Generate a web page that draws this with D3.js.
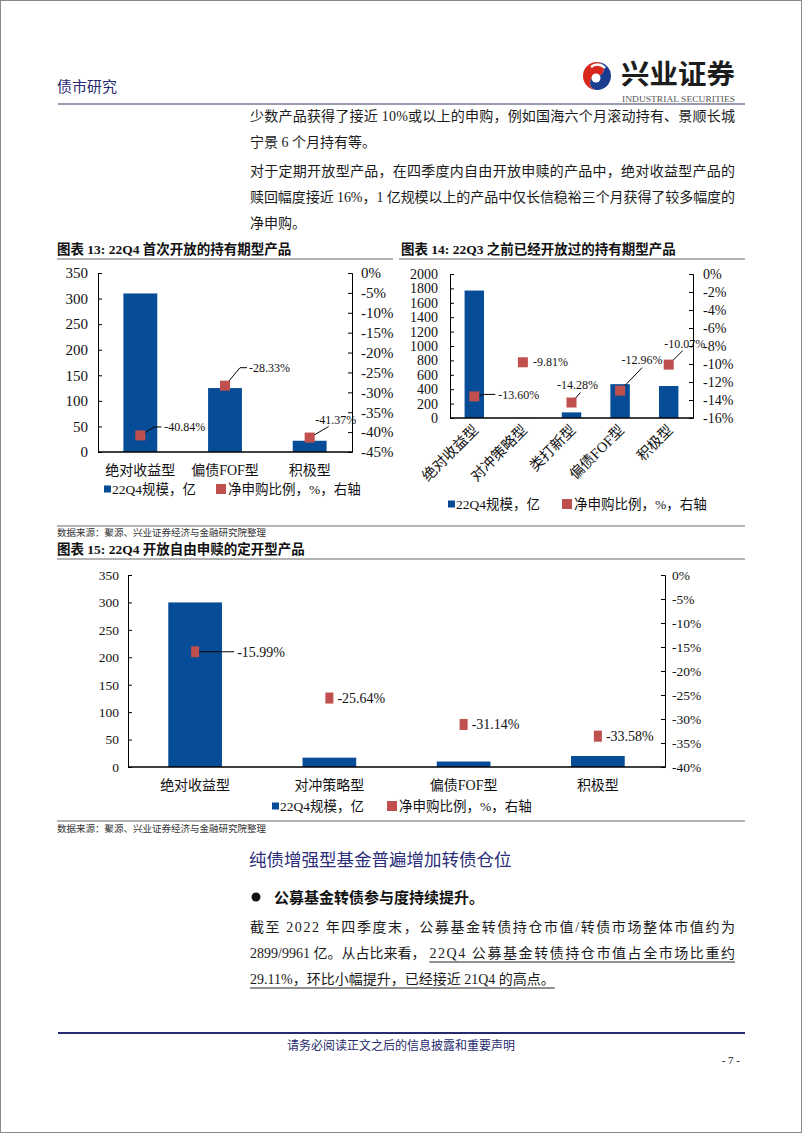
<!DOCTYPE html>
<html><head><meta charset="utf-8">
<script src="https://cdn.jsdelivr.net/npm/d3@7/dist/d3.min.js"></script>
<style>
html,body{margin:0;padding:0;background:#fff;}
svg{display:block;}
</style></head>
<body>
<svg id="page" width="802" height="1133"></svg>
<script>
// ---------- data ----------
const c13Categories = ["绝对收益型", "偏债FOF型", "积极型"];
const c13Scale = [310, 125, 22];          // 22Q4规模，亿
const c13Ratio = [-40.84, -28.33, -41.37]; // 净申购比例，%
const c13LeftTicks = [0, 50, 100, 150, 200, 250, 300, 350];
const c13RightTicks = [0, -5, -10, -15, -20, -25, -30, -35, -40, -45];

const c14Categories = ["绝对收益型", "对冲策略型", "类打新型", "偏债FOF型", "积极型"];
const c14Scale = [1770, 2, 78, 470, 444];
const c14Ratio = [-13.60, -9.81, -14.28, -12.96, -10.07];
const c14LeftTicks = [0, 200, 400, 600, 800, 1000, 1200, 1400, 1600, 1800, 2000];
const c14RightTicks = [0, -2, -4, -6, -8, -10, -12, -14, -16];

const c15Categories = ["绝对收益型", "对冲策略型", "偏债FOF型", "积极型"];
const c15Scale = [300, 17, 10, 20];
const c15Ratio = [-15.99, -25.64, -31.14, -33.58];
const c15LeftTicks = [0, 50, 100, 150, 200, 250, 300, 350];
const c15RightTicks = [0, -5, -10, -15, -20, -25, -30, -35, -40];

const legendLabels = ["22Q4规模，亿", "净申购比例，%，右轴"];

// label placement (offsets from the marker, and leader line bends)
const c13LabelPos = [{dx:24, dy:-8.5, anchor:"start", leader:[[14,-8.5],[21,-8.5]]},
                     {dx:24, dy:-18, anchor:"start", leader:[[15,-18],[22,-18]]},
                     {dx:26, dy:-17.5, anchor:"middle", leader:[[19,-11]]}];
const c14LabelPos = [{dx:24, dy:-2, anchor:"start", leader:[[10,-2],[21,-2]]},
                     {dx:10, dy:0, anchor:"start", leader:null},
                     {dx:6, dy:-17.5, anchor:"middle", leader:[[9,-10]]},
                     {dx:22, dy:-30.5, anchor:"middle", leader:[[22,-23]]},
                     {dx:16, dy:-20.5, anchor:"middle", leader:[[14,-14]]}];
const c15LabelPos = [{dx:42, dy:0, anchor:"start", leader:[[39,0]]},
                     {dx:8, dy:0, anchor:"start", leader:null},
                     {dx:8, dy:0, anchor:"start", leader:null},
                     {dx:8, dy:0, anchor:"start", leader:null}];

// ---------- styles ----------
const BLUE = "#074C97";
const RED = "#C0504D";
const NAVY = "#262A6E";
const SERIF = "'Liberation Serif','Noto Sans CJK SC',serif";
const CJK = "'Liberation Serif','Noto Sans CJK SC',sans-serif";

const svg = d3.select("#page");

// page border
svg.append("rect").attr("x",0.5).attr("y",0.5).attr("width",801).attr("height",1132)
  .attr("fill","#fff").attr("stroke","#8a8a8a");

// ---------- header ----------
svg.append("text").attr("x",57).attr("y",92).text("债市研究")
  .attr("font-family",CJK).attr("font-size",15).attr("fill",NAVY);

// logo swirl
const lg = svg.append("g").attr("transform","translate(597,76)");
lg.append("path").attr("d","M0,-14 A14,14 0 0,0 0,14 A7,7 0 0,1 0,0 A7,7 0 0,0 0,-14 Z").attr("fill","#D7281E");
lg.append("path").attr("d","M0,-14 A14,14 0 0,1 0,14 A7,7 0 0,1 0,0 A7,7 0 0,0 0,-14 Z").attr("fill","#1B3D8F");
lg.append("circle").attr("cx",-1).attr("cy",2).attr("r",4.5).attr("fill","#fff");
lg.append("path").attr("d","M-6,-9 A10,10 0 0,1 8,-8").attr("fill","none").attr("stroke","#fff").attr("stroke-width",2.5);
svg.append("text").attr("x",621).attr("y",84).text("兴业证券")
  .attr("font-family","'Noto Sans CJK SC',sans-serif").attr("font-weight","bold")
  .attr("font-size",27).attr("fill","#1d1d1d").attr("textLength",114).attr("lengthAdjust","spacingAndGlyphs");
svg.append("text").attr("x",622).attr("y",102).text("INDUSTRIAL SECURITIES")
  .attr("font-family",SERIF).attr("font-size",8.5).attr("fill","#555").attr("textLength",113).attr("lengthAdjust","spacingAndGlyphs");
svg.append("line").attr("x1",58).attr("x2",745).attr("y1",104).attr("y2",104)
  .attr("stroke","#7a7a96").attr("stroke-width",1.6);

// ---------- body text ----------
function bodyLine(y, txt, justify, x, size) {
  const t = svg.append("text").attr("x", x || 250).attr("y", y).text(txt)
    .attr("font-family",CJK).attr("font-size", size || 14).attr("fill","#1a1a1a");
  if (justify) t.attr("textLength", 485).attr("lengthAdjust","spacing");
  return t;
}
bodyLine(121, "少数产品获得了接近 10%或以上的申购，例如国海六个月滚动持有、景顺长城", true);
bodyLine(147, "宁景 6 个月持有等。", false);
bodyLine(176, "对于定期开放型产品，在四季度内自由开放申赎的产品中，绝对收益型产品的", true);
bodyLine(202, "赎回幅度接近 16%，1 亿规模以上的产品中仅长信稳裕三个月获得了较多幅度的", true);
bodyLine(228, "净申购。", false);

// ---------- chart titles & rules ----------
function title(x, y, txt) {
  svg.append("text").attr("x",x).attr("y",y).text(txt)
    .attr("font-family",CJK).attr("font-weight","bold").attr("font-size",13.5).attr("fill","#111");
}
function rule(x1, x2, y, w, c) {
  svg.append("line").attr("x1",x1).attr("x2",x2).attr("y1",y).attr("y2",y)
    .attr("stroke", c || "#6a6a6a").attr("stroke-width", w || 1.2);
}
function source(y) {
  svg.append("text").attr("x",57).attr("y",y).text("数据来源：聚源、兴业证券经济与金融研究院整理")
    .attr("font-family",CJK).attr("font-size",9.5).attr("fill","#333");
}
title(57, 254, "图表 13:  22Q4 首次开放的持有期型产品");
rule(57, 393, 259);
title(401, 254, "图表 14:  22Q3 之前已经开放过的持有期型产品");
rule(399, 745, 259);
rule(57, 745, 526);
source(536);
title(57, 554, "图表 15:  22Q4 开放自由申赎的定开型产品");
rule(57, 745, 559);
rule(57, 745, 821);
source(832);

// ---------- combo chart ----------
function combo(o) {
  const g = svg.append("g");
  const x = d3.scaleBand().domain(o.cats).range([o.x0, o.x1]).paddingInner(0.6).paddingOuter(0.3);
  const yl = d3.scaleLinear().domain([0, d3.max(o.leftTicks)]).range([o.yb, o.yt]);
  const yr = d3.scaleLinear().domain([d3.min(o.rightTicks), 0]).range([o.yb, o.yt]);

  // bars
  g.selectAll("rect.bar").data(o.cats).enter().append("rect").attr("class","bar")
    .attr("x", d => x(d)).attr("width", x.bandwidth())
    .attr("y", (d,i) => yl(o.bars[i])).attr("height", (d,i) => o.yb - yl(o.bars[i]))
    .attr("fill", BLUE);

  // axes
  const la = d3.axisLeft(yl).tickValues(o.leftTicks).tickSizeInner(-4).tickSizeOuter(-4)
    .tickPadding(o.lpad).tickFormat(d3.format("d"));
  const ra = d3.axisRight(yr).tickValues(o.rightTicks).tickSizeInner(-4).tickSizeOuter(-4)
    .tickPadding(o.rpad).tickFormat(d => d + "%");
  const lag = g.append("g").attr("transform", `translate(${o.x0},0)`).call(la);
  const rag = g.append("g").attr("transform", `translate(${o.x1},0)`).call(ra);
  [lag, rag].forEach(a => {
    a.select(".domain").attr("stroke","#000").attr("stroke-width",1);
    a.selectAll(".tick line").attr("stroke","#000");
    a.selectAll(".tick text").attr("font-family",SERIF).attr("font-size",o.tickSize).attr("fill","#111");
  });
  // baseline
  g.append("line").attr("x1",o.x0).attr("x2",o.x1).attr("y1",o.yb).attr("y2",o.yb)
    .attr("stroke","#000").attr("stroke-width",1.3);

  // markers
  const ms = o.marker;
  o.cats.forEach((c,i) => {
    const cx = x(c) + x.bandwidth()/2, cy = yr(o.ratios[i]);
    const lp = o.labels[i];
    if (lp.leader) {
      const pts = [[cx, cy]].concat(lp.leader.map(p => [cx + p[0], cy + p[1]]));
      g.append("path").attr("d", d3.line()(pts)).attr("fill","none").attr("stroke","#000").attr("stroke-width",1);
    }
    g.append("rect").attr("x", cx - ms[0]/2).attr("y", cy - ms[1]/2)
      .attr("width", ms[0]).attr("height", ms[1]).attr("fill", RED);
    g.append("text").attr("x", cx + lp.dx).attr("y", cy + lp.dy).attr("dy","0.35em")
      .attr("text-anchor", lp.anchor).text(o.ratios[i].toFixed(2) + "%")
      .attr("font-family",SERIF).attr("font-size",o.labelSize).attr("fill","#111");
  });

  // category labels
  o.cats.forEach(c => {
    const cx = x(c) + x.bandwidth()/2;
    const t = g.append("text").text(c).attr("font-family",CJK).attr("font-size",o.catSize).attr("fill","#111");
    if (o.rotate) {
      t.attr("text-anchor","end").attr("transform", `translate(${cx + 5},${o.yb + 13}) rotate(-45)`);
    } else {
      t.attr("text-anchor","middle").attr("x", cx).attr("y", o.catY);
    }
  });

  // legend
  const L = o.legend;
  g.append("rect").attr("x",L.x1).attr("y",L.y - L.s1/2).attr("width",L.s1).attr("height",L.s1).attr("fill",BLUE);
  g.append("text").attr("x",L.x1 + L.s1 + 1).attr("y",L.y).attr("dy","0.35em").text(legendLabels[0])
    .attr("font-family",CJK).attr("font-size",L.fs).attr("fill","#111");
  g.append("rect").attr("x",L.x2).attr("y",L.y - L.s2/2).attr("width",L.s2).attr("height",L.s2).attr("fill",RED);
  g.append("text").attr("x",L.x2 + L.s2 + 2).attr("y",L.y).attr("dy","0.35em").text(legendLabels[1])
    .attr("font-family",CJK).attr("font-size",L.fs).attr("fill","#111");
}

combo({cats:c13Categories, bars:c13Scale, ratios:c13Ratio, leftTicks:c13LeftTicks, rightTicks:c13RightTicks,
  x0:98, x1:352, yt:273, yb:452, lpad:10, rpad:9, tickSize:15, labelSize:12, catSize:14, catY:475,
  marker:[10,10], labels:c13LabelPos, rotate:false,
  legend:{x1:104, x2:216, y:489, s1:7, s2:10, fs:13.5}});

combo({cats:c14Categories, bars:c14Scale, ratios:c14Ratio, leftTicks:c14LeftTicks, rightTicks:c14RightTicks,
  x0:450, x1:693, yt:274, yb:418, lpad:12, rpad:10, tickSize:14, labelSize:12, catSize:14.5,
  marker:[10,10], labels:c14LabelPos, rotate:true,
  legend:{x1:448, x2:562, y:504, s1:7, s2:10, fs:13.5}});

combo({cats:c15Categories, bars:c15Scale, ratios:c15Ratio, leftTicks:c15LeftTicks, rightTicks:c15RightTicks,
  x0:128, x1:665, yt:575, yb:767, lpad:9, rpad:7, tickSize:13.5, labelSize:14, catSize:14, catY:790,
  marker:[8,11], labels:c15LabelPos, rotate:false,
  legend:{x1:272, x2:387, y:806, s1:7, s2:10, fs:13.5}});

// ---------- section ----------
svg.append("text").attr("x",249).attr("y",866).text("纯债增强型基金普遍增加转债仓位")
  .attr("font-family",CJK).attr("font-size",17.5).attr("fill","#2B2D7A");
svg.append("circle").attr("cx",256).attr("cy",897).attr("r",4.5).attr("fill","#111");
svg.append("text").attr("x",274).attr("y",903).text("公募基金转债参与度持续提升。")
  .attr("font-family",CJK).attr("font-weight","bold").attr("font-size",15).attr("fill","#111");

bodyLine(932, "截至 2022 年四季度末，公募基金转债持仓市值/转债市场整体市值约为", true);
const p1 = bodyLine(958, "2899/9961 亿。从占比来看，", false);
const w1 = p1.node().getComputedTextLength();
const p2 = bodyLine(958, "22Q4 公募基金转债持仓市值占全市场比重约", false, 250 + w1 + 4);
p2.attr("textLength", 735 - (250 + w1 + 4)).attr("lengthAdjust","spacing");
svg.append("line").attr("x1",250 + w1 + 4).attr("x2",735).attr("y1",962).attr("y2",962).attr("stroke","#222").attr("stroke-width",1);
const p3 = bodyLine(984, "29.11%，环比小幅提升，已经接近 21Q4 的高点。", false);
const w3 = p3.node().getComputedTextLength();
svg.append("line").attr("x1",250).attr("x2",250 + w3).attr("y1",988).attr("y2",988).attr("stroke","#222").attr("stroke-width",1);

// ---------- footer ----------
svg.append("line").attr("x1",58).attr("x2",745).attr("y1",1033).attr("y2",1033).attr("stroke",NAVY).attr("stroke-width",2.2);
svg.append("text").attr("x",401).attr("y",1050).attr("text-anchor","middle").text("请务必阅读正文之后的信息披露和重要声明")
  .attr("font-family",CJK).attr("font-size",12).attr("fill",NAVY);
svg.append("text").attr("x",740).attr("y",1064).attr("text-anchor","end").text("- 7 -")
  .attr("font-family",SERIF).attr("font-size",11).attr("fill","#111");
</script>
</body></html>
